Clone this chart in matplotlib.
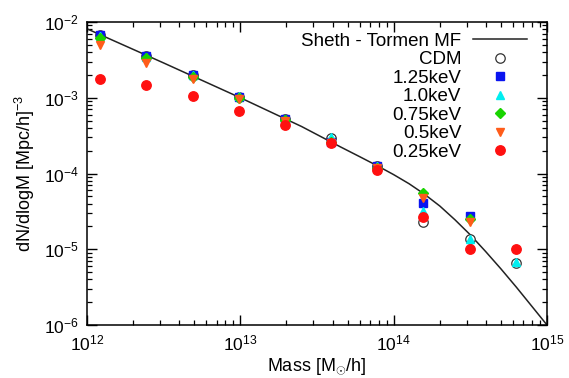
import numpy as np
import matplotlib
matplotlib.use("Agg")
import matplotlib.pyplot as plt
from matplotlib.ticker import LogLocator, NullFormatter

plt.rcParams['font.family'] = ['Liberation Sans', 'DejaVu Sans']
plt.rcParams['mathtext.fontset'] = 'custom'
plt.rcParams['mathtext.rm'] = 'Liberation Sans'
plt.rcParams['mathtext.it'] = 'Liberation Sans:italic'

# Halo masses [Msun/h]
mass = [1.22e12, 2.44e12, 4.88e12, 9.77e12, 1.95e13, 3.91e13, 7.81e13, 1.56e14, 3.13e14, 6.25e14]

# Sheth-Tormen curve (mass, dN/dlogM)
st_mass = [1.0e12, 3.16e12, 1.0e13, 2.51e13, 4.47e13, 6.03e13, 7.94e13, 1.0e14, 1.26e14,
           1.58e14, 2.0e14, 2.51e14, 3.16e14, 3.98e14, 5.01e14, 6.31e14, 7.94e14, 1.0e15]
st_val = [8.13e-3, 2.88e-3, 1.0e-3, 4.17e-4, 2.26e-4, 1.66e-4, 1.245e-4, 9.66e-5, 7.33e-5,
          5.37e-5, 3.72e-5, 2.45e-5, 1.55e-5, 9.33e-6, 5.5e-6, 3.16e-6, 1.78e-6, 1.0e-6]

cdm = [6.7e-3, 3.6e-3, 2.0e-3, 1.03e-3, 5.2e-4, 2.9e-4, 1.25e-4, 2.3e-5, 1.37e-5, 6.6e-6]
kev125 = [6.7e-3, 3.55e-3, 2.0e-3, 1.02e-3, 5.2e-4, 2.6e-4, 1.27e-4, 4.1e-5, 2.75e-5]
kev100 = [6.6e-3, 3.5e-3, 2.0e-3, 1.04e-3, 5.3e-4, 3.0e-4, 1.25e-4, 3.2e-5, 1.37e-5, 6.8e-6]
kev075 = [6.2e-3, 3.3e-3, 1.9e-3, 1.0e-3, 5.1e-4, 2.6e-4, 1.2e-4, 5.5e-5, 2.5e-5]
kev050 = [5.0e-3, 2.9e-3, 1.75e-3, 9.5e-4, 4.9e-4, 2.5e-4, 1.18e-4, 4.7e-5, 2.3e-5]
kev025 = [1.77e-3, 1.47e-3, 1.07e-3, 6.7e-4, 4.4e-4, 2.5e-4, 1.12e-4, 2.7e-5, 1.0e-5, 1.0e-5]

labels = ["CDM", "1.25keV", "1.0keV", "0.75keV", "0.5keV", "0.25keV"]

fig = plt.figure(figsize=(5.69, 3.78), dpi=100)
ax = fig.add_axes([87/569, 53/378, 460/569, 303/378])

ax.plot(st_mass, st_val, color='#222222', lw=1.1, label="Sheth - Tormen MF")

ms = 6.8
ax.plot(mass[:len(cdm)], cdm, 'o', ls='none', mfc='white', mec='#333333', mew=0.9, ms=ms, label=labels[0])
ax.plot(mass[:len(kev125)], kev125, 's', ls='none', color='#0a14f0', ms=ms - 0.5, label=labels[1])
ax.plot(mass[:len(kev100)], kev100, '^', ls='none', color='#00eef0', ms=ms - 0.5, label=labels[2])
ax.plot(mass[:len(kev075)], kev075, 'D', ls='none', color='#19d400', ms=ms - 1.5, label=labels[3])
ax.plot(mass[:len(kev050)], kev050, 'v', ls='none', color='#ff5c1a', ms=ms - 0.5, label=labels[4])
ax.plot(mass[:len(kev025)], kev025, 'o', ls='none', color='#ff1010', ms=ms, label=labels[5])

ax.set_xscale('log')
ax.set_yscale('log')
ax.set_xlim(1e12, 1e15)
ax.set_ylim(1e-6, 1e-2)

ax.xaxis.set_major_locator(LogLocator(base=10, numticks=10))
ax.xaxis.set_minor_locator(LogLocator(base=10, subs=np.arange(2, 10), numticks=20))
ax.xaxis.set_minor_formatter(NullFormatter())
ax.yaxis.set_major_locator(LogLocator(base=10, numticks=10))
ax.yaxis.set_minor_locator(LogLocator(base=10, subs=np.arange(2, 10), numticks=20))
ax.yaxis.set_minor_formatter(NullFormatter())

ax.tick_params(which='both', direction='in', top=True, right=True, colors='black', labelsize=12.5)
ax.tick_params(which='major', length=7, width=1.0, pad=6)
ax.tick_params(which='minor', length=3.5, width=0.9)
for s in ax.spines.values():
    s.set_linewidth(1.1)

ax.set_xlabel("Mass [M$_{\\odot}$/h]", fontsize=13, labelpad=2)
ax.set_ylabel("dN/dlogM [Mpc/h]$^{-3}$", fontsize=13, labelpad=5)

leg = ax.legend(loc='upper right', frameon=False, markerfirst=False, fontsize=13.5,
                handlelength=2.9, handletextpad=0.6, labelspacing=0.07,
                borderpad=0.0, borderaxespad=0.0, bbox_to_anchor=(0.9565, 0.964))

fig.savefig("out.png", dpi=100)
